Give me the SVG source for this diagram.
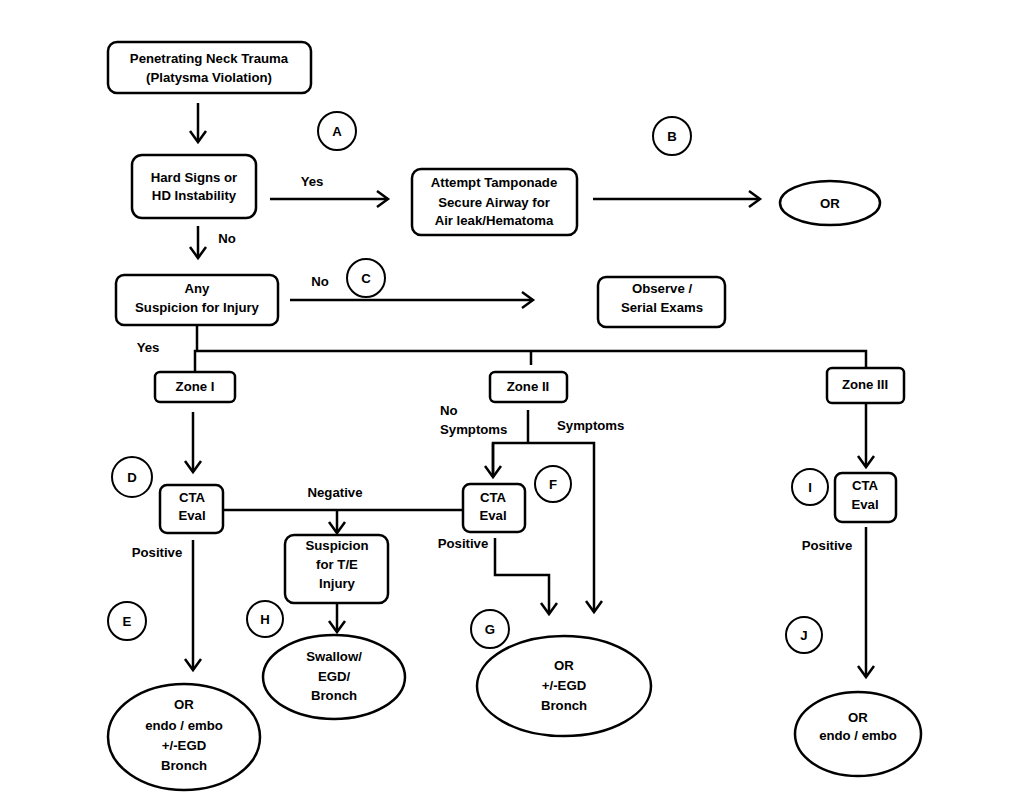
<svg xmlns="http://www.w3.org/2000/svg" width="1024" height="797" viewBox="0 0 1024 797">
<style>
.box{fill:#fff;stroke:#000;stroke-width:2.5}
.ell{fill:#fff;stroke:#000;stroke-width:2.5}
.lc{fill:#fff;stroke:#000;stroke-width:2}
.ln{fill:none;stroke:#000;stroke-width:2.5}
text{font-family:"Liberation Sans",Arial,sans-serif;font-weight:bold;font-size:13.2px;fill:#000}
.m{text-anchor:middle}
</style>
<defs>
<marker id="ah" viewBox="0 0 12 18" refX="11" refY="9" markerWidth="12" markerHeight="18" markerUnits="userSpaceOnUse" orient="auto" overflow="visible">
<path d="M0,1 L11,9 L0,17" fill="none" stroke="#000" stroke-width="2.5"/>
</marker>
</defs>
<rect width="1024" height="797" fill="#fff"/>
<g id="connectors">
<line class="ln" x1="198" y1="103" x2="198" y2="142" marker-end="url(#ah)"/>
<line class="ln" x1="270" y1="199" x2="388" y2="199" marker-end="url(#ah)"/>
<line class="ln" x1="198" y1="226" x2="198" y2="258" marker-end="url(#ah)"/>
<line class="ln" x1="593" y1="199" x2="760" y2="199" marker-end="url(#ah)"/>
<line class="ln" x1="290" y1="300" x2="533" y2="300" marker-end="url(#ah)"/>
<polyline class="ln" points="197,325 197,351"/>
<polyline class="ln" points="195,372 195,351 866,351 866,368"/>
<line class="ln" x1="531" y1="351" x2="531" y2="365"/>
<line class="ln" x1="193" y1="412" x2="193" y2="472" marker-end="url(#ah)"/>
<line class="ln" x1="866" y1="403" x2="866" y2="467" marker-end="url(#ah)"/>
<polyline class="ln" points="528,410 528,443"/>
<polyline class="ln" points="493,477 493,443 594,443 594,612" marker-end="url(#ah)"/>
<line class="ln" x1="493" y1="443" x2="493" y2="477" marker-end="url(#ah)"/>
<line class="ln" x1="223" y1="510" x2="463" y2="510"/>
<line class="ln" x1="337" y1="510" x2="337" y2="533" marker-end="url(#ah)"/>
<line class="ln" x1="193" y1="540" x2="193" y2="670" marker-end="url(#ah)"/>
<polyline class="ln" points="495,538 495,575 549,575 549,614" marker-end="url(#ah)"/>
<line class="ln" x1="337" y1="603" x2="337" y2="632" marker-end="url(#ah)"/>
<line class="ln" x1="866" y1="527" x2="866" y2="677" marker-end="url(#ah)"/>
<text class="m" x="312" y="186">Yes</text>
<text class="m" x="227" y="243">No</text>
<text class="m" x="320" y="286">No</text>
<text class="m" x="148" y="352">Yes</text>
<text x="440" y="415">No</text>
<text x="440" y="434">Symptoms</text>
<text x="557" y="430">Symptoms</text>
<text class="m" x="335" y="497">Negative</text>
<text class="m" x="157" y="557">Positive</text>
<text class="m" x="463" y="548">Positive</text>
<text class="m" x="827" y="550">Positive</text>
</g>
<g id="n-trauma"><rect class="box" x="108" y="42" width="203" height="51" rx="9"/><text class="m" x="209" y="63">Penetrating Neck Trauma</text><text class="m" x="209" y="82">(Platysma Violation)</text></g>
<g id="n-hard"><rect class="box" x="132" y="155" width="124" height="63" rx="10"/><text class="m" x="194" y="182">Hard Signs or</text><text class="m" x="194" y="200">HD Instability</text></g>
<g id="n-tamp"><rect class="box" x="412" y="169" width="165" height="66" rx="9"/><text class="m" x="494" y="187">Attempt Tamponade</text><text class="m" x="494" y="207">Secure Airway for</text><text class="m" x="494" y="225">Air leak/Hematoma</text></g>
<g id="n-or1"><ellipse class="ell" cx="830" cy="203" rx="50" ry="22"/><text class="m" x="830" y="208">OR</text></g>
<g id="n-any"><rect class="box" x="116" y="275" width="162" height="50" rx="8"/><text class="m" x="197" y="293">Any</text><text class="m" x="197" y="312">Suspicion for Injury</text></g>
<g id="n-observe"><rect class="box" x="598" y="277" width="127" height="50" rx="8"/><text class="m" x="662" y="293">Observe /</text><text class="m" x="662" y="312">Serial Exams</text></g>
<g id="n-zone1"><rect class="box" x="155" y="372" width="80" height="30" rx="5"/><text class="m" x="195" y="391">Zone I</text></g>
<g id="n-zone2"><rect class="box" x="490" y="372" width="77" height="30" rx="5"/><text class="m" x="528" y="391">Zone II</text></g>
<g id="n-zone3"><rect class="box" x="827" y="368" width="77" height="35" rx="5"/><text class="m" x="865" y="389">Zone III</text></g>
<g id="n-cta1"><rect class="box" x="160" y="485" width="63" height="48" rx="7"/><text class="m" x="192" y="502">CTA</text><text class="m" x="192" y="520">Eval</text></g>
<g id="n-cta2"><rect class="box" x="463" y="484" width="62" height="48" rx="7"/><text class="m" x="493" y="502">CTA</text><text class="m" x="493" y="520">Eval</text></g>
<g id="n-cta3"><rect class="box" x="835" y="473" width="61" height="49" rx="7"/><text class="m" x="865" y="490">CTA</text><text class="m" x="865" y="509">Eval</text></g>
<g id="n-susp"><rect class="box" x="285" y="535" width="103" height="68" rx="9"/><text class="m" x="337" y="550">Suspicion</text><text class="m" x="337" y="569">for T/E</text><text class="m" x="337" y="588">Injury</text></g>
<g id="n-or-e"><ellipse class="ell" cx="184" cy="737" rx="76" ry="53"/><text class="m" x="184" y="709">OR</text><text class="m" x="184" y="730">endo / embo</text><text class="m" x="184" y="750">+/-EGD</text><text class="m" x="184" y="770">Bronch</text></g>
<g id="n-swallow"><ellipse class="ell" cx="334" cy="677" rx="71" ry="42"/><text class="m" x="334" y="661">Swallow/</text><text class="m" x="334" y="681">EGD/</text><text class="m" x="334" y="700">Bronch</text></g>
<g id="n-or-g"><ellipse class="ell" cx="564" cy="686" rx="87" ry="50"/><text class="m" x="564" y="670">OR</text><text class="m" x="564" y="690">+/-EGD</text><text class="m" x="564" y="710">Bronch</text></g>
<g id="n-or-j"><ellipse class="ell" cx="858" cy="734" rx="63" ry="42"/><text class="m" x="858" y="722">OR</text><text class="m" x="858" y="740">endo / embo</text></g>
<g id="c-a"><circle class="lc" cx="337" cy="131" r="19"/><text class="m" x="337" y="136">A</text></g>
<g id="c-b"><circle class="lc" cx="672" cy="136" r="19"/><text class="m" x="672" y="141">B</text></g>
<g id="c-c"><circle class="lc" cx="366" cy="278" r="19"/><text class="m" x="366" y="283">C</text></g>
<g id="c-d"><circle class="lc" cx="132" cy="477" r="20"/><text class="m" x="132" y="482">D</text></g>
<g id="c-e"><circle class="lc" cx="127" cy="621" r="19"/><text class="m" x="127" y="626">E</text></g>
<g id="c-f"><circle class="lc" cx="553" cy="484" r="18"/><text class="m" x="553" y="489">F</text></g>
<g id="c-g"><circle class="lc" cx="490" cy="629" r="19"/><text class="m" x="490" y="634">G</text></g>
<g id="c-h"><circle class="lc" cx="265" cy="619" r="18"/><text class="m" x="265" y="624">H</text></g>
<g id="c-i"><circle class="lc" cx="810" cy="487" r="18"/><text class="m" x="810" y="492">I</text></g>
<g id="c-j"><circle class="lc" cx="804" cy="635" r="18"/><text class="m" x="804" y="640">J</text></g>
</svg>
